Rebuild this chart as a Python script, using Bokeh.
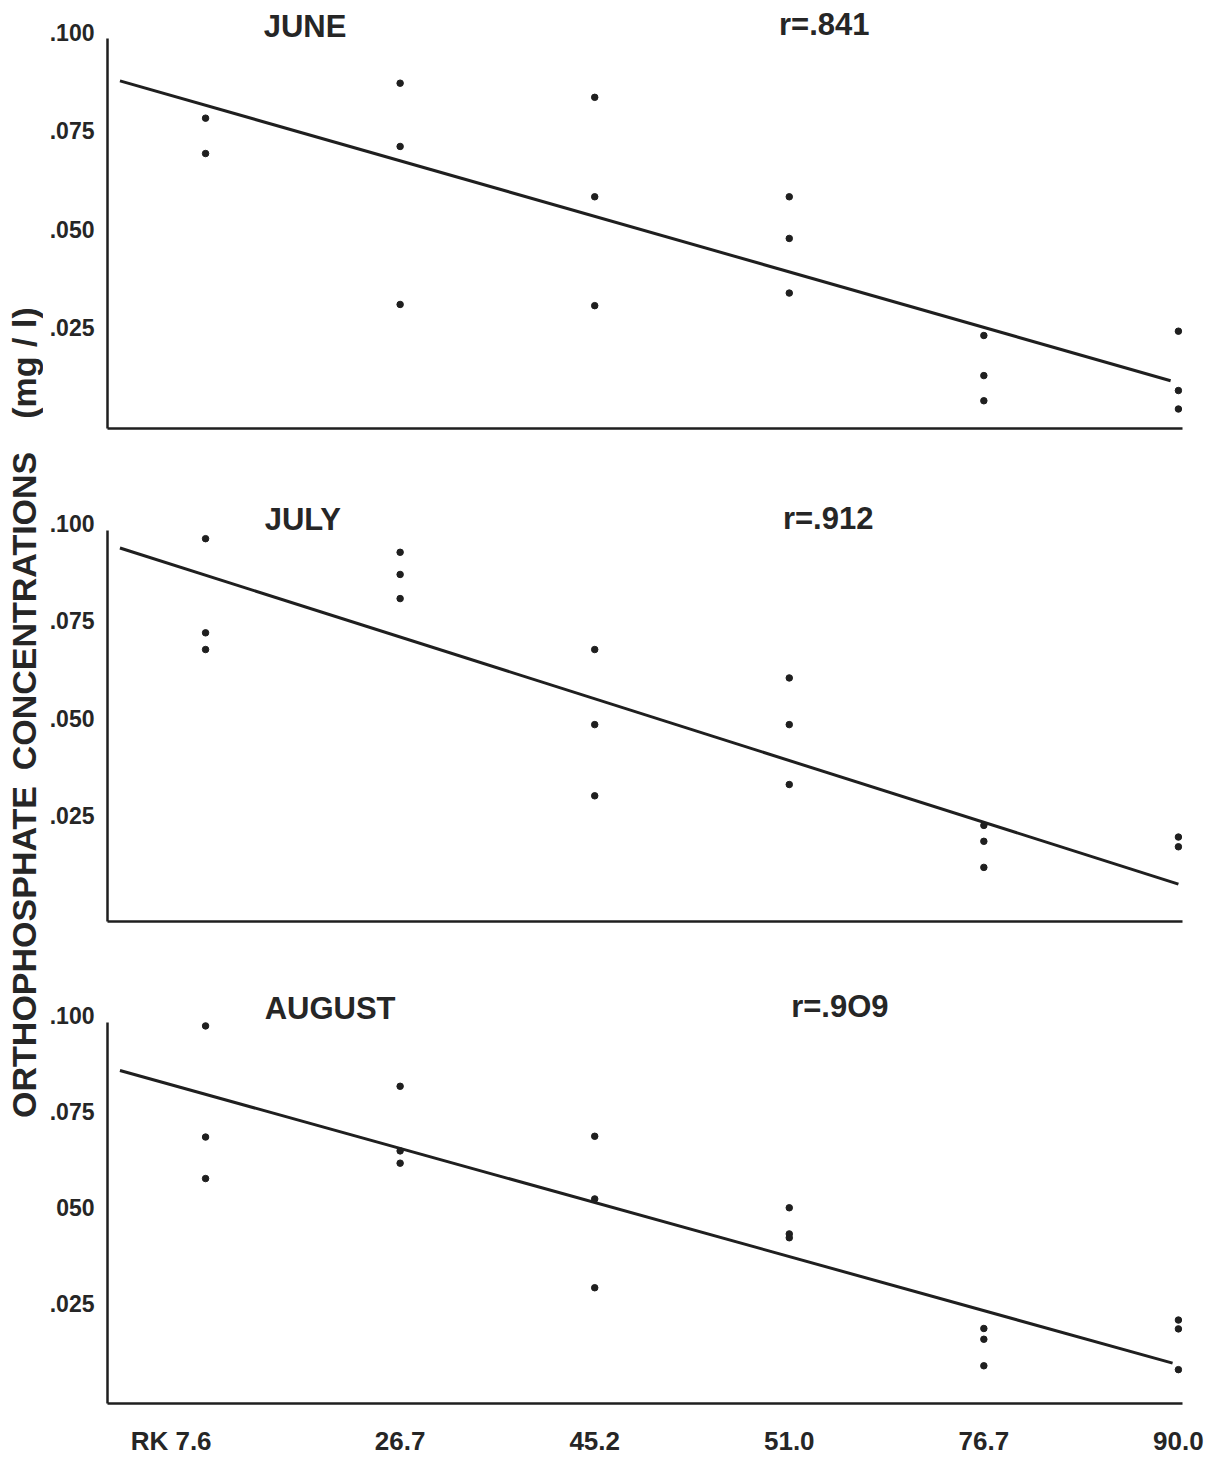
from math import pi
from bokeh.plotting import figure
from bokeh.layouts import row, column
from bokeh.models import Range1d, FixedTicker, Label, LinearAxis
from bokeh.core.properties import value
from bokeh.embed import file_html
from bokeh.resources import INLINE

# ---------------- data ----------------
stations = ["RK 7.6", "26.7", "45.2", "51.0", "76.7", "90.0"]
y_ticks = [0.025, 0.05, 0.075, 0.1]
y_tick_labels = [".025", ".050", ".075", ".100"]
aug_y_tick_labels = [".025", "050", ".075", ".100"]
months = ["JUNE", "JULY", "AUGUST"]
r_labels = ["r=.841", "r=.912", "r=.9O9"]
title_words = ["ORTHOPHOSPHATE", "CONCENTRATIONS", "(mg / l)"]

june_site = [0, 0, 1, 1, 1, 2, 2, 2, 3, 3, 3, 4, 4, 4, 5, 5, 5]
june_conc = [0.0782, 0.0692, 0.0871, 0.0710, 0.0308, 0.0835, 0.0582, 0.0305,
             0.0582, 0.0476, 0.0337, 0.0229, 0.0127, 0.0063, 0.0240, 0.0089, 0.0042]
june_fit_x = [-0.44, 4.96]
june_fit_y = [0.0877, 0.0114]

july_site = [0, 0, 0, 1, 1, 1, 2, 2, 2, 3, 3, 3, 4, 4, 4, 5, 5]
july_conc = [0.0961, 0.0719, 0.0676, 0.0926, 0.0869, 0.0807, 0.0676, 0.0483, 0.0300,
             0.0603, 0.0483, 0.0329, 0.0224, 0.0183, 0.0116, 0.0194, 0.0169]
july_fit_x = [-0.44, 5.0]
july_fit_y = [0.0937, 0.0073]

aug_site = [0, 0, 0, 1, 1, 1, 2, 2, 2, 3, 3, 3, 4, 4, 4, 5, 5, 5]
aug_conc = [0.0972, 0.0683, 0.0575, 0.0815, 0.0647, 0.0615, 0.0685, 0.0522, 0.0291,
            0.0499, 0.0431, 0.0421, 0.0185, 0.0157, 0.0088, 0.0207, 0.0184, 0.0078]
aug_fit_x = [-0.44, 4.97]
aug_fit_y = [0.0856, 0.0095]

# ---------------- style / layout ----------------
INK = "#1f1f1f"
TXT = "#262626"
FONT = "Liberation Sans"
STRIP_W = 43
PANEL_W = 1168
X0 = -0.504
X_END = 5.021

panels = [
    dict(site=june_site, conc=june_conc, fx=june_fit_x, fy=june_fit_y,
         month=months[0], r=r_labels[0], ylabels=y_tick_labels,
         height=475, bottom=47,
         y0=-0.00076, y1=0.10814, axis_top=0.0985,
         title_xy=(0.511, 0.10165), r_xy=(3.18, 0.10216), xlabels=False),
    dict(site=july_site, conc=july_conc, fx=july_fit_x, fy=july_fit_y,
         month=months[1], r=r_labels[1], ylabels=y_tick_labels,
         height=493, bottom=47,
         y0=-0.00231, y1=0.11234, axis_top=0.0982,
         title_xy=(0.50, 0.10103), r_xy=(3.20, 0.10141), xlabels=False),
    dict(site=aug_site, conc=aug_conc, fx=aug_fit_x, fy=aug_fit_y,
         month=months[2], r=r_labels[2], ylabels=aug_y_tick_labels,
         height=490, bottom=52,
         y0=-0.00101, y1=0.11214, axis_top=0.0982,
         title_xy=(0.64, 0.10168), r_xy=(3.26, 0.10238), xlabels=True),
]


def style_axis(ax):
    ax.axis_line_color = INK
    ax.axis_line_width = 2.5
    ax.major_tick_out = 0
    ax.major_tick_in = 0
    ax.minor_tick_out = 0
    ax.minor_tick_in = 0
    ax.major_label_text_font = FONT
    ax.major_label_text_font_style = "bold"
    ax.major_label_text_color = TXT


figs = []
for cfg in panels:
    p = figure(width=PANEL_W, height=cfg["height"],
               x_range=Range1d(X0, X_END), y_range=Range1d(cfg["y0"], cfg["y1"]),
               y_axis_location=None,
               min_border_left=64, min_border_right=29,
               min_border_top=0, min_border_bottom=cfg["bottom"],
               toolbar_location=None, output_backend="svg",
               background_fill_color="white", border_fill_color="white",
               outline_line_color=None)
    p.xgrid.visible = False
    p.ygrid.visible = False

    # y axis line (stops just below the top tick), then the tick labels
    y_line = LinearAxis(bounds=(cfg["y0"], cfg["axis_top"]), ticker=FixedTicker(ticks=[]))
    style_axis(y_line)
    y_line.major_label_standoff = 0
    y_line.axis_label_standoff = 0
    y_lab = LinearAxis(ticker=FixedTicker(ticks=y_ticks))
    style_axis(y_lab)
    y_lab.axis_line_color = None
    y_lab.major_label_overrides = {t: l for t, l in zip(y_ticks, cfg["ylabels"])}
    y_lab.major_label_text_font_size = "23px"
    y_lab.major_label_standoff = 13
    p.add_layout(y_line, "left")
    p.add_layout(y_lab, "left")

    style_axis(p.xaxis[0])
    if cfg["xlabels"]:
        xt = [-0.177, 1, 2, 3, 4, 5]
        p.xaxis.ticker = FixedTicker(ticks=xt)
        p.xaxis.major_label_overrides = {t: l for t, l in zip(xt, stations)}
        p.xaxis.major_label_text_font_size = "26px"
        p.xaxis.major_label_standoff = 22
    else:
        p.xaxis.ticker = FixedTicker(ticks=[])
        p.xaxis.major_label_standoff = 0

    p.line(x=cfg["fx"], y=cfg["fy"], line_width=3, line_color=INK)
    p.scatter(x=cfg["site"], y=cfg["conc"], size=6.5, fill_color=INK, line_color=INK)

    tx, ty = cfg["title_xy"]
    p.add_layout(Label(x=tx, y=ty, text=cfg["month"], text_align="center",
                       text_baseline="middle", text_font=FONT, text_font_style="bold",
                       text_font_size="31px", text_color=TXT))
    rx, ry = cfg["r_xy"]
    p.add_layout(Label(x=rx, y=ry, text=cfg["r"], text_align="center",
                       text_baseline="middle", text_font=FONT, text_font_style="bold",
                       text_font_size="31px", text_color=TXT))
    figs.append(p)

# vertical axis title strip
TH = sum(c["height"] for c in panels)
t = figure(width=STRIP_W, height=TH, x_range=Range1d(0, STRIP_W), y_range=Range1d(0, TH),
           min_border=0, toolbar_location=None, output_backend="svg",
           x_axis_type=None, y_axis_type=None, outline_line_color=None,
           background_fill_color="white", border_fill_color="white")
t.xgrid.visible = False
t.ygrid.visible = False
word_y = [TH - 951.5, TH - 610.5, TH - 362.5]
t.text(x=[23.5] * 3, y=word_y, text=title_words, angle=pi / 2,
       text_align="center", text_baseline="middle",
       text_font=value(FONT), text_font_style="bold", text_font_size="34px",
       text_color=TXT)

layout = row(t, column(*figs))
open("out.html", "w").write(file_html(layout, INLINE))
